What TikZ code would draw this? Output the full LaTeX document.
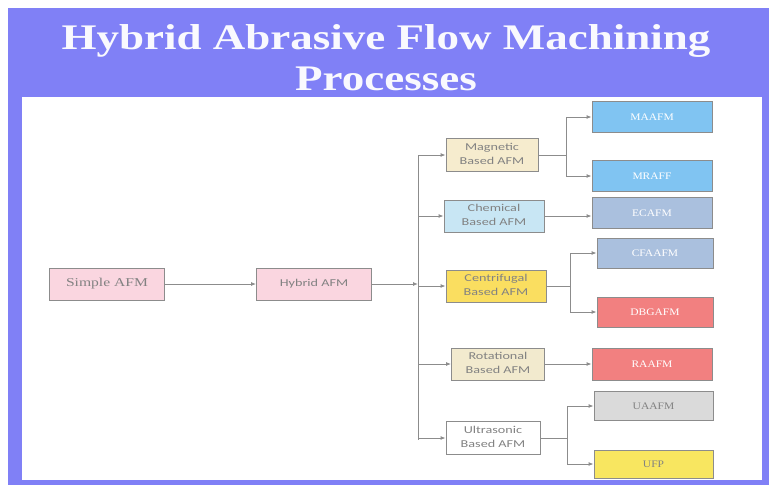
\documentclass[tikz,border=0pt]{standalone}
\usepackage{fontspec}
\setmainfont{Liberation Serif}
\newfontfamily\boxsans{Carlito}
\usetikzlibrary{arrows.meta}
\definecolor{slideblue}{RGB}{128,128,246}
\definecolor{linegray}{RGB}{140,140,140}
\definecolor{txtgray}{RGB}{130,130,130}
\definecolor{pinkfill}{RGB}{250,214,224}
\definecolor{beigefill}{RGB}{246,236,206}
\definecolor{chemfill}{RGB}{200,230,244}
\definecolor{yellowfill}{RGB}{250,222,96}
\definecolor{rotfill}{RGB}{242,234,206}
\definecolor{skyfill}{RGB}{128,196,242}
\definecolor{greyblue}{RGB}{170,192,222}
\definecolor{salmon}{RGB}{242,128,128}
\definecolor{lightgrey}{RGB}{218,218,218}
\definecolor{ufpfill}{RGB}{248,230,96}
\newcommand{\widetxt}[1]{\scalebox{1.35}[1]{\begin{tabular}{@{}c@{}}#1\end{tabular}}}
\newcommand{\rlabel}[1]{\scalebox{1.15}[1]{#1}}
\tikzset{
  x=1pt,y=-1pt,
  basebox/.style={draw=linegray, line width=0.9pt, inner sep=0pt, align=center},
  leftbox/.style={basebox, minimum width=115pt, minimum height=32pt, fill=pinkfill, text=txtgray, font=\boxsans\fontsize{10.5}{12}\selectfont},
  midbox/.style={basebox, minimum height=33pt, text=txtgray, font=\boxsans\fontsize{10.5}{13.5}\selectfont},
  rightbox/.style={basebox, minimum width=120pt, minimum height=31pt, text=white, font=\fontsize{10}{11}\selectfont},
  conn/.style={draw=linegray, line width=0.9pt},
  arr/.style={conn, -{Latex[length=5pt,width=4pt]}},
}
\begin{document}
\begin{tikzpicture}
\useasboundingbox (0,0) rectangle (769,485);
\fill[white] (0,0) rectangle (769,485);
\fill[slideblue] (8,8) rectangle (769,485);
\fill[white] (22,97) rectangle (762,480);
% title
\node[text=white!95!slideblue, font=\bfseries\fontsize{36}{41}\selectfont, align=center] (title) at (386,58)
  {\scalebox{1.25}[1]{Hybrid Abrasive Flow Machining}\\\scalebox{1.25}[1]{Processes}};
% left column
\node[leftbox, font=\fontsize{12}{14}\selectfont] (simple) at (107,284) {\scalebox{1.3}[1]{Simple AFM}};
\node[leftbox] (hybrid) at (314,284) {\widetxt{Hybrid AFM}};
% middle column
\node[midbox, minimum width=92pt, fill=beigefill] (mag) at (492,155) {\widetxt{Magnetic\\Based AFM}};
\node[midbox, minimum width=100pt, minimum height=32pt, fill=chemfill] (chem) at (494,216) {\widetxt{Chemical\\Based AFM}};
\node[midbox, minimum width=100pt, minimum height=32pt, fill=yellowfill] (cent) at (496,286) {\widetxt{Centrifugal\\Based AFM}};
\node[midbox, minimum width=93pt, minimum height=32pt, fill=rotfill] (rot) at (498,364) {\widetxt{Rotational\\Based AFM}};
\node[midbox, minimum width=94pt, fill=white] (ultra) at (493,438) {\widetxt{Ultrasonic\\Based AFM}};
% right column
\node[rightbox, fill=skyfill] (maafm) at (652,117) {\rlabel{MAAFM}};
\node[rightbox, fill=skyfill] (mraff) at (652,176) {\rlabel{MRAFF}};
\node[rightbox, fill=greyblue] (ecafm) at (652,213) {\rlabel{ECAFM}};
\node[rightbox, minimum width=116pt, minimum height=30pt, fill=greyblue] (cfaafm) at (655,253) {\rlabel{CFAAFM}};
\node[rightbox, minimum width=116pt, minimum height=30pt, fill=salmon] (dbgafm) at (655,312) {\rlabel{DBGAFM}};
\node[rightbox, minimum height=32pt, fill=salmon] (raafm) at (652,364) {\rlabel{RAAFM}};
\node[rightbox, minimum width=119pt, minimum height=29pt, fill=lightgrey, text=txtgray] (uaafm) at (653.5,406) {\rlabel{UAAFM}};
\node[rightbox, minimum width=119pt, minimum height=28pt, fill=ufpfill, text=txtgray] (ufp) at (653.5,464) {\rlabel{UFP}};
% bus
\coordinate (bustop) at (418,155);
\coordinate (busbot) at (418,440);
\coordinate (busmid) at (418,284);
\draw[conn] (bustop) -- (busbot);
\draw[arr] (simple) -- (hybrid);
\draw[arr] (hybrid) -- (busmid);
\draw[arr] (418,155) -- (mag.west);
\draw[arr] (418,216) -- (chem.west);
\draw[arr] (418,286) -- (cent.west);
\draw[arr] (418,364) -- (rot.west);
\draw[arr] (418,438) -- (ultra.west);
% magnetic split
\coordinate (mj) at (566,155);
\draw[conn] (mag.east) -- (mj);
\draw[conn] (566,117) -- (566,176);
\draw[arr] (566,117) -- (maafm.west);
\draw[arr] (566,176) -- (mraff.west);
% chemical
\draw[arr] (chem.east) -- (ecafm.west |- chem.east);
% centrifugal split
\coordinate (cj) at (570,286);
\draw[conn] (cent.east) -- (cj);
\draw[conn] (570,253) -- (570,312);
\draw[arr] (570,253) -- (cfaafm.west);
\draw[arr] (570,312) -- (dbgafm.west);
% rotational
\draw[arr] (rot.east) -- (raafm.west);
% ultrasonic split
\coordinate (uj) at (567,438);
\draw[conn] (ultra.east) -- (uj);
\draw[conn] (567,406) -- (567,464);
\draw[arr] (567,406) -- (uaafm.west);
\draw[arr] (567,464) -- (ufp.west);
\end{tikzpicture}
\end{document}
